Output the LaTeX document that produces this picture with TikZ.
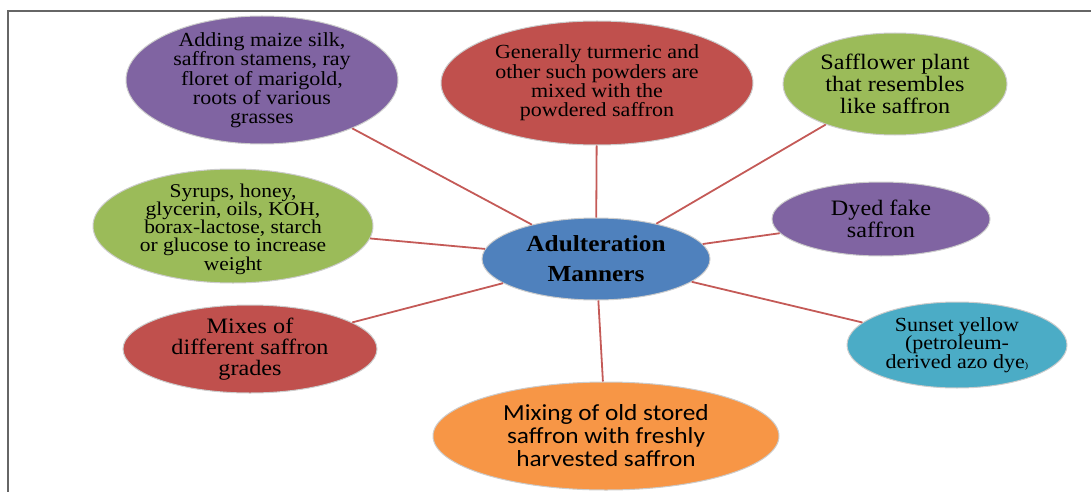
\documentclass[tikz,border=0pt]{standalone}
\usepackage{fontspec}
\setmainfont{Liberation Serif}
\newfontfamily\calibri{Carlito}
\usetikzlibrary{shapes.geometric}

\definecolor{officepurple}{HTML}{8064A2}
\definecolor{officered}{HTML}{C0504D}
\definecolor{officegreen}{HTML}{9BBB59}
\definecolor{officeblue}{HTML}{4F81BD}
\definecolor{officecyan}{HTML}{4BACC6}
\definecolor{officeorange}{HTML}{F79646}
\definecolor{linkred}{HTML}{C45A57}
\definecolor{framegray}{HTML}{666666}

\newcommand{\fs}[2]{\fontsize{#1}{#2}\selectfont}

\tikzset{
	blob/.style={ellipse, draw=white!80!black, line width=1pt, inner sep=0pt},
	txt/.style={align=center, inner sep=0pt, transform shape, xscale=1.1},
	link/.style={draw=linkred, line width=1.8pt},
}

\begin{document}
\begin{tikzpicture}[x=1pt,y=-1pt]

% bounding box %{{{2

	\useasboundingbox (0,0) rectangle (1091,492);

% frame %{{{2

	\draw[framegray, line width=2] (8,492) -- (8,11) -- (1091,11);

% ellipses %{{{2

	\node[blob, fill=officepurple, minimum width=272, minimum height=128] (adding) at (262,80) {};
	\node[blob, fill=officered, minimum width=312, minimum height=124] (turmeric) at (597,83) {};
	\node[blob, fill=officegreen, minimum width=224, minimum height=102] (safflower) at (895,84) {};
	\node[blob, fill=officepurple, minimum width=218, minimum height=74] (dyed) at (881,219) {};
	\node[blob, fill=officegreen, minimum width=280, minimum height=114] (syrups) at (233,226) {};
	\node[blob, fill=officeblue, minimum width=228, minimum height=82] (adult) at (596,259) {};
	\node[blob, fill=officered, minimum width=254, minimum height=88] (grades) at (250,349) {};
	\node[blob, fill=officecyan, minimum width=220, minimum height=86] (sunset) at (957,345) {};
	\node[blob, fill=officeorange, minimum width=346, minimum height=108] (oldstored) at (606,436) {};

% texts %{{{2

	\node[txt, font=\fs{20}{18.3}] (adding-t) at (adding)
	{Adding maize silk,\\ saffron stamens, ray\\ floret of marigold,\\ roots of various\\ grasses};
	\node[txt, font=\fs{20}{19.3}] (turmeric-t) at (turmeric)
	{Generally turmeric and\\ other such powders are\\ mixed with the\\ powdered saffron};
	\node[txt, font=\fs{22}{21.7}] (safflower-t) at (safflower)
	{Safflower plant\\ that resembles\\ like saffron};
	\node[txt, font=\fs{22}{21.7}] (dyed-t) at (dyed)
	{Dyed fake\\ saffron};
	\node[txt, font=\fs{19.5}{18.2}] (syrups-t) at ([yshift=-3]syrups.center)
	{Syrups, honey,\\ glycerin, oils, KOH,\\ borax-lactose, starch\\ or glucose to increase\\ weight};
	\node[txt, font=\fs{23}{30}\bfseries] (adult-t) at (adult)
	{Adulteration\\ Manners};
	\node[txt, font=\fs{22}{21}] (grades-t) at (grades)
	{Mixes of\\ different saffron\\ grades};
	\node[txt, font=\fs{20}{18.3}] (sunset-t) at (sunset)
	{Sunset yellow\\ (petroleum-\\ derived azo dye{\small)}};
	\node[txt, font=\calibri\fs{23}{23}] (oldstored-t) at (oldstored)
	{Mixing of old stored\\ saffron with freshly\\ harvested saffron};

% links %{{{2

	\foreach \n in {adding,turmeric,safflower,dyed,syrups,grades,sunset,oldstored} {
		\draw[link] (adult) -- (\n);
	}

% closing %{{{2

\end{tikzpicture}
\end{document}
